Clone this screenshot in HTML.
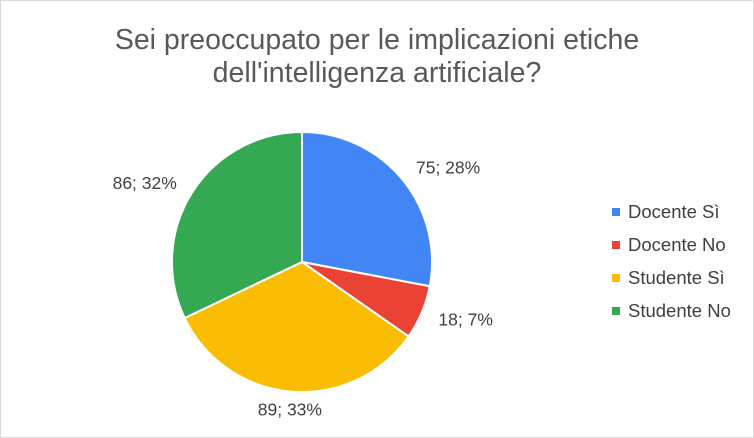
<!DOCTYPE html>
<html><head><meta charset="utf-8"><style>
body{margin:0;background:#fff}
svg{display:block;font-family:"Liberation Sans",Arial,sans-serif}
</style></head><body>
<svg id="chart" width="754" height="438" viewBox="0 0 754 438">
<rect x="0.5" y="0.5" width="753" height="437" fill="#fff" stroke="#d9d9d9"/>
<text x="377" y="49" text-anchor="middle" font-size="28.5" fill="#595959">Sei preoccupato per le implicazioni etiche</text>
<text x="377" y="82" text-anchor="middle" font-size="28.5" fill="#595959">dell'intelligenza artificiale?</text>
<g id="slices"></g><g id="labels"></g><g id="legend"></g>
</svg>
<script>
const categories=["Docente Sì","Docente No","Studente Sì","Studente No"];
const values=[75,18,89,86];
const colors=["#4285f4","#ea4335","#fbbc04","#34a853"];
const ns="http://www.w3.org/2000/svg";
const cx=302,cy=262,r=130;
const total=values.reduce((a,b)=>a+b,0);
const sl=document.getElementById('slices'),lb=document.getElementById('labels'),lg=document.getElementById('legend');
function pt(a,rad){return [cx+rad*Math.sin(a),cy-rad*Math.cos(a)];}
let acc=0;
values.forEach((v,i)=>{
  const a0=acc/total*2*Math.PI;acc+=v;const a1=acc/total*2*Math.PI;
  const p0=pt(a0,r),p1=pt(a1,r);
  const path=document.createElementNS(ns,'path');
  path.setAttribute('d',`M${cx},${cy} L${p0[0]},${p0[1]} A${r},${r} 0 ${a1-a0>Math.PI?1:0} 1 ${p1[0]},${p1[1]} Z`);
  path.setAttribute('fill',colors[i]);path.setAttribute('stroke','#fff');path.setAttribute('stroke-width','2');
  
  
  sl.appendChild(path);
  const am=(a0+a1)/2,s=Math.sin(am);
  const lp=pt(am,r+18);
  const t=document.createElementNS(ns,'text');
  t.setAttribute('x',lp[0]);t.setAttribute('y',lp[1]+6);
  t.setAttribute('text-anchor',s>0.3?'start':(s<-0.3?'end':'middle'));
  t.setAttribute('font-size','17.5');t.setAttribute('fill','#404040');
  t.textContent=v+'; '+Math.round(v/total*100)+'%';
  
  
  lb.appendChild(t);
  const y=212+i*33;
  const sq=document.createElementNS(ns,'rect');
  sq.setAttribute('x',612);sq.setAttribute('y',y-4);sq.setAttribute('width',8);sq.setAttribute('height',8);sq.setAttribute('fill',colors[i]);
  
  
  lg.appendChild(sq);
  const lt=document.createElementNS(ns,'text');
  lt.setAttribute('x',628);lt.setAttribute('y',y+6);lt.setAttribute('font-size','18.5');lt.setAttribute('fill','#404040');
  lt.textContent=categories[i];
  
  
  lg.appendChild(lt);
});
</script>
</body></html>
